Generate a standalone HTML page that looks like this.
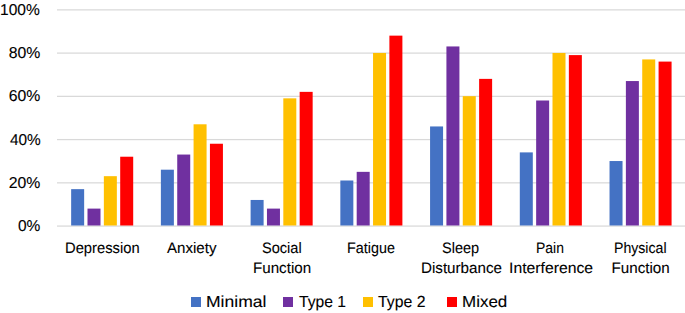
<!DOCTYPE html>
<html><head><meta charset="utf-8"><style>
html,body{margin:0;padding:0;background:#fff;}
body{width:685px;height:313px;overflow:hidden;position:relative;font-family:"Liberation Sans",sans-serif;color:#000;}
svg{position:absolute;left:0;top:0;}
.t{position:absolute;line-height:20px;white-space:nowrap;transform-origin:0 0;text-rendering:geometricPrecision;-webkit-text-stroke:0.1px #000;}
.lg{position:absolute;width:10px;height:10px;}
</style></head><body>
<svg width="685" height="313" viewBox="0 0 685 313">
<rect x="57.0" y="9.25" width="643.0" height="1.25" fill="#d9d9d9"/>
<rect x="57.0" y="52.49" width="643.0" height="1.25" fill="#d9d9d9"/>
<rect x="57.0" y="95.73" width="643.0" height="1.25" fill="#d9d9d9"/>
<rect x="57.0" y="138.97" width="643.0" height="1.25" fill="#d9d9d9"/>
<rect x="57.0" y="182.21" width="643.0" height="1.25" fill="#d9d9d9"/>
<rect x="57.0" y="225.45" width="643.0" height="1.25" fill="#d9d9d9"/>
<rect x="71.15" y="189.15" width="13.0" height="36.35" fill="#4472C4"/>
<rect x="87.50" y="208.60" width="13.0" height="16.90" fill="#7030A0"/>
<rect x="103.85" y="176.17" width="13.0" height="49.33" fill="#FFC000"/>
<rect x="120.20" y="156.72" width="13.0" height="68.78" fill="#FF0000"/>
<rect x="160.88" y="169.69" width="13.0" height="55.81" fill="#4472C4"/>
<rect x="177.23" y="154.55" width="13.0" height="70.95" fill="#7030A0"/>
<rect x="193.58" y="124.29" width="13.0" height="101.21" fill="#FFC000"/>
<rect x="209.93" y="143.74" width="13.0" height="81.76" fill="#FF0000"/>
<rect x="250.61" y="199.96" width="13.0" height="25.54" fill="#4472C4"/>
<rect x="266.96" y="208.60" width="13.0" height="16.90" fill="#7030A0"/>
<rect x="283.31" y="98.34" width="13.0" height="127.16" fill="#FFC000"/>
<rect x="299.66" y="91.86" width="13.0" height="133.64" fill="#FF0000"/>
<rect x="340.34" y="180.50" width="13.0" height="45.00" fill="#4472C4"/>
<rect x="356.69" y="171.85" width="13.0" height="53.65" fill="#7030A0"/>
<rect x="373.04" y="52.94" width="13.0" height="172.56" fill="#FFC000"/>
<rect x="389.39" y="35.64" width="13.0" height="189.86" fill="#FF0000"/>
<rect x="430.07" y="126.45" width="13.0" height="99.05" fill="#4472C4"/>
<rect x="446.42" y="46.45" width="13.0" height="179.05" fill="#7030A0"/>
<rect x="462.77" y="96.18" width="13.0" height="129.32" fill="#FFC000"/>
<rect x="479.12" y="78.88" width="13.0" height="146.62" fill="#FF0000"/>
<rect x="519.80" y="152.39" width="13.0" height="73.11" fill="#4472C4"/>
<rect x="536.15" y="100.50" width="13.0" height="125.00" fill="#7030A0"/>
<rect x="552.50" y="52.94" width="13.0" height="172.56" fill="#FFC000"/>
<rect x="568.85" y="55.10" width="13.0" height="170.40" fill="#FF0000"/>
<rect x="609.53" y="161.04" width="13.0" height="64.46" fill="#4472C4"/>
<rect x="625.88" y="81.05" width="13.0" height="144.45" fill="#7030A0"/>
<rect x="642.23" y="59.43" width="13.0" height="166.07" fill="#FFC000"/>
<rect x="658.58" y="61.59" width="13.0" height="163.91" fill="#FF0000"/>
</svg>
<div class="t" style="font-size:15.8px;left:0.32px;top:0.96px;transform:scaleX(0.9846)">100%</div>
<div class="t" style="font-size:15.8px;left:8.70px;top:44.20px;transform:scaleX(1.0000)">80%</div>
<div class="t" style="font-size:15.8px;left:8.70px;top:87.44px;transform:scaleX(1.0000)">60%</div>
<div class="t" style="font-size:15.8px;left:9.50px;top:130.68px;transform:scaleX(0.9742)">40%</div>
<div class="t" style="font-size:15.8px;left:8.70px;top:173.92px;transform:scaleX(1.0000)">20%</div>
<div class="t" style="font-size:15.8px;left:18.12px;top:217.16px;transform:scaleX(0.9810)">0%</div>
<div class="t" style="font-size:15.2px;left:64.93px;top:238.66px;transform:scaleX(0.9720)">Depression</div>
<div class="t" style="font-size:15.2px;left:167.20px;top:238.66px;transform:scaleX(0.9940)">Anxiety</div>
<div class="t" style="font-size:15.2px;left:261.84px;top:238.66px;transform:scaleX(0.9590)">Social</div>
<div class="t" style="font-size:15.2px;left:252.70px;top:258.96px;transform:scaleX(0.9982)">Function</div>
<div class="t" style="font-size:15.2px;left:347.26px;top:238.66px;transform:scaleX(0.9449)">Fatigue</div>
<div class="t" style="font-size:15.2px;left:442.04px;top:238.66px;transform:scaleX(0.9568)">Sleep</div>
<div class="t" style="font-size:15.2px;left:420.60px;top:258.96px;transform:scaleX(0.9987)">Disturbance</div>
<div class="t" style="font-size:15.2px;left:536.48px;top:238.66px;transform:scaleX(0.9172)">Pain</div>
<div class="t" style="font-size:15.2px;left:508.76px;top:258.96px;transform:scaleX(1.0380)">Interference</div>
<div class="t" style="font-size:15.2px;left:614.07px;top:238.66px;transform:scaleX(0.9291)">Physical</div>
<div class="t" style="font-size:15.2px;left:611.50px;top:258.96px;transform:scaleX(1.0000)">Function</div>
<div class="t" style="font-size:16.0px;left:205.80px;top:293.46px;transform:scaleX(1.0962)">Minimal</div>
<div class="t" style="font-size:16.0px;left:298.50px;top:293.46px;transform:scaleX(0.9787)">Type 1</div>
<div class="t" style="font-size:16.0px;left:378.30px;top:293.46px;transform:scaleX(0.9872)">Type 2</div>
<div class="t" style="font-size:16.0px;left:461.74px;top:293.46px;transform:scaleX(1.0610)">Mixed</div>
<div class="lg" style="left:191px;top:297px;background:#4472C4"></div>
<div class="lg" style="left:283px;top:297px;background:#7030A0"></div>
<div class="lg" style="left:363px;top:297px;background:#FFC000"></div>
<div class="lg" style="left:447px;top:297px;background:#FF0000"></div>
</body></html>
